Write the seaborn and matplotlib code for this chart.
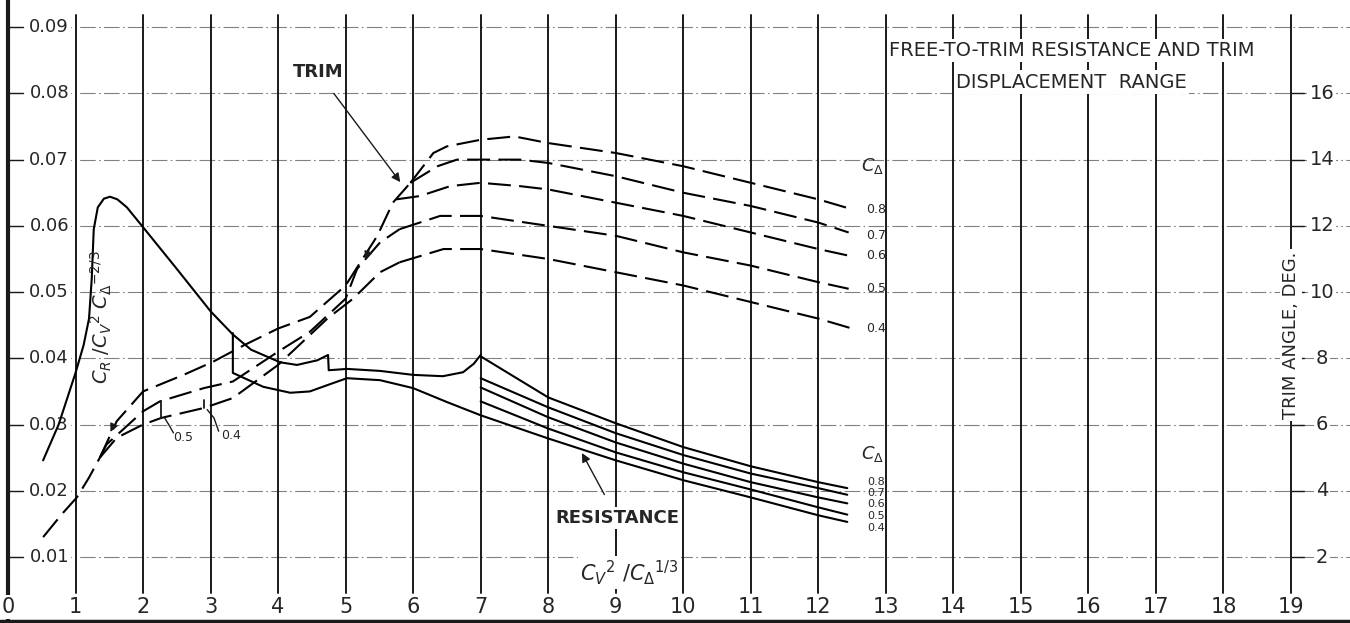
import matplotlib
matplotlib.use("Agg")
import numpy as np
import pandas as pd
import matplotlib.pyplot as plt
import seaborn as sns

# ---- data ----
# resistance, low speed (common to all loads), with the jump near x=4.75
res_hump_x = [0.52, 0.75, 1.0, 1.12, 1.2, 1.24, 1.27, 1.33, 1.42, 1.51, 1.62, 1.76, 2.0, 2.5, 3.0,
              3.33, 3.6, 4.03, 4.28, 4.58, 4.74, 4.75, 5.02, 5.51, 6.0, 6.44, 6.74, 6.9, 7.0]
res_hump = [0.0246, 0.030, 0.0378, 0.042, 0.046, 0.052, 0.0595, 0.0628, 0.0641, 0.0644, 0.0640, 0.0628,
            0.0598, 0.0535, 0.0471, 0.0436, 0.0413, 0.0394, 0.0390, 0.0397, 0.0405, 0.0382, 0.0384,
            0.0381, 0.0375, 0.0373, 0.0379, 0.0392, 0.0405]
# lower branch starting at x=3.33 (becomes the 0.4 curve)
res_low_x = [3.33, 3.33, 3.78, 4.18, 4.47, 4.77, 5.02, 5.51, 6.0, 6.5, 7.0]
res_low = [0.0438, 0.0378, 0.0357, 0.0348, 0.0350, 0.0361, 0.0370, 0.0367, 0.0355, 0.0334, 0.0314]
# high speed, one curve per load coefficient
loads = ["0.8", "0.7", "0.6", "0.5", "0.4"]
res_x = [7, 8, 9, 10, 11, 12, 12.43]
res_curves = {
    "0.8": [0.0403, 0.0341, 0.0302, 0.0266, 0.0237, 0.0213, 0.0204],
    "0.7": [0.0370, 0.0326, 0.0287, 0.0254, 0.0226, 0.0204, 0.0194],
    "0.6": [0.0356, 0.0311, 0.0273, 0.0241, 0.0213, 0.0190, 0.0181],
    "0.5": [0.0335, 0.0294, 0.0258, 0.0228, 0.0202, 0.0175, 0.0164],
    "0.4": [0.0314, 0.0279, 0.0246, 0.0216, 0.0190, 0.0163, 0.0153],
}
res_label_y = [0.0214, 0.0197, 0.0180, 0.0162, 0.0144]

# trim angle, degrees
trim_common_x = [0.52, 0.8, 1.02, 1.2, 1.36]
trim_common = [2.6, 3.3, 3.8, 4.4, 5.0]
trim_upper_x = [1.36, 1.61, 2.0, 2.6, 3.04, 3.5, 4.0, 4.47, 5.0, 5.47, 5.7, 5.96]
trim_upper = [5.0, 6.1, 7.0, 7.5, 7.9, 8.4, 8.9, 9.25, 10.2, 11.7, 12.7, 13.3]
trim_mid_x = [1.36, 1.46, 2.0, 2.25, 2.9, 3.33, 4.0, 4.47, 5.0, 5.17, 5.51, 5.8]
trim_mid = [5.0, 5.4, 6.4, 6.7, 7.1, 7.3, 8.2, 8.8, 9.8, 10.7, 11.5, 11.9]
trim_low_x = [1.36, 1.61, 2.0, 2.27, 2.9, 3.33, 4.0, 4.73, 5.11, 5.51, 5.8]
trim_low = [5.0, 5.6, 6.0, 6.2, 6.5, 6.8, 7.8, 9.2, 9.8, 10.6, 10.9]
trim_curves_x = {
    "0.8": [5.96, 6.3, 6.5, 7, 7.5, 8, 9, 10, 11, 12, 12.5],
    "0.7": [5.96, 6.36, 6.65, 7, 7.58, 8, 9, 10, 11, 12, 12.45],
    "0.6": [5.75, 6.1, 6.55, 7, 7.58, 8, 9, 10, 11, 12, 12.45],
    "0.5": [5.8, 6.4, 7, 8, 9, 10, 11, 12, 12.45],
    "0.4": [5.8, 6.45, 7, 8, 9, 10, 11, 12, 12.5],
}
trim_curves = {
    "0.8": [13.3, 14.2, 14.4, 14.6, 14.7, 14.5, 14.2, 13.8, 13.3, 12.8, 12.5],
    "0.7": [13.3, 13.8, 14.0, 14.0, 14.0, 13.9, 13.5, 13.0, 12.6, 12.1, 11.8],
    "0.6": [12.8, 12.9, 13.2, 13.3, 13.2, 13.1, 12.7, 12.3, 11.8, 11.3, 11.1],
    "0.5": [11.9, 12.3, 12.3, 12.0, 11.7, 11.2, 10.8, 10.3, 10.1],
    "0.4": [10.9, 11.3, 11.3, 11.0, 10.6, 10.2, 9.7, 9.2, 8.9],
}
trim_label_deg = [12.5, 11.7, 11.1, 10.1, 8.9]

y_ticks = [0.01, 0.02, 0.03, 0.04, 0.05, 0.06, 0.07, 0.08, 0.09]
x_ticks = list(range(0, 20))
deg_ticks = [2, 4, 6, 8, 10, 12, 14, 16]

# ---- figure ----
sns.set_theme(style="white")
plt.rcParams["font.family"] = ["DejaVu Sans"]
plt.rcParams["mathtext.fontset"] = "dejavusans"

fig = plt.figure(figsize=(13.5, 6.23), dpi=100)
ax = fig.add_axes([0, 0, 1, 1])
ax.set_xlim(-0.1185, 19.875)
ax.set_ylim(0.0000377, 0.0941)
ax.axis("off")
ax2 = ax.twinx()
ax2.set_ylim(0.0000377 * 200, 0.0941 * 200)
ax2.axis("off")

white = dict(fc="white", ec="none", pad=1.5)

# grid
for v in y_ticks:
    ax.plot([0, 19.9], [v, v], ls=(0, (14, 3, 1.5, 3)), color="0.5", lw=0.8, zorder=1)
    ax.plot([0, 0.22], [v, v], color="k", lw=1.0, zorder=1)
for xv in range(1, 20):
    ax.plot([xv, xv], [0.0046, 0.0918], color="k", lw=1.4, zorder=1)
ax.plot([0, 0], [0, 0.0941], color="k", lw=3, zorder=1)
ax.plot([-0.12, 19.9], [0.0003, 0.0003], color="k", lw=2.5, zorder=1)

for v in y_ticks:
    ax.text(0.61, v, f"{v:.2f}", ha="center", va="center", fontsize=13, bbox=white, zorder=2)
for i in x_ticks:
    ax.text(i, 0.0025, str(i), ha="center", va="center", fontsize=15, bbox=white, zorder=2)
for d in deg_ticks:
    ax2.plot([19.0, 19.2], [d, d], color="k", lw=1.0, zorder=1)
    ax2.text(19.46, d, str(d), ha="center", va="center", fontsize=14, bbox=white, zorder=2)

# resistance curves (solid)
kw = dict(color="black", lw=1.5, sort=False, estimator=None, legend=False, zorder=4)
sns.lineplot(x=res_hump_x, y=res_hump, ax=ax, **kw)
sns.lineplot(x=res_low_x, y=res_low, ax=ax, **kw)
res_df = pd.DataFrame([(c, x, y) for c in loads for x, y in zip(res_x, res_curves[c])],
                      columns=["load", "x", "y"])
for c in loads:
    sub = res_df[res_df.load == c]
    sns.lineplot(data=sub, x="x", y="y", ax=ax, **kw)

# trim curves (dashed)
dash = (0, (11, 4))
tkw = dict(color="black", lw=1.5, sort=False, estimator=None, legend=False, zorder=4)
for xs, ys in [(trim_common_x, trim_common), (trim_upper_x, trim_upper),
               (trim_mid_x, trim_mid), (trim_low_x, trim_low)]:
    sns.lineplot(x=xs, y=ys, ax=ax2, linestyle=dash, **tkw)
for c in loads:
    sns.lineplot(x=trim_curves_x[c], y=trim_curves[c], ax=ax2, linestyle=dash, **tkw)

# direction arrowheads on the trim curves
for tip, tail in [((1.5, 5.7), (1.58, 6.05)), ((5.28, 10.9), (5.36, 11.35))]:
    ax2.annotate("", xy=tip, xytext=tail, zorder=5,
                 arrowprops=dict(arrowstyle="-|>", color="k", lw=1.0, mutation_scale=12))

# step marks with labels on the low trim curve
ax2.plot([2.27, 2.27], [6.2, 6.7], color="k", lw=1.3, zorder=4)
ax2.plot([2.9, 2.9], [6.5, 6.75], color="k", lw=1.3, zorder=4)
ax2.plot([2.32, 2.38, 2.45], [6.2, 6.0, 5.75], color="k", lw=1.0, zorder=4)
ax2.plot([2.95, 3.05, 3.12], [6.45, 6.2, 5.8], color="k", lw=1.0, zorder=4)
ax.text(2.6, 0.0281, "0.5", ha="center", va="center", fontsize=9)
ax.text(3.3, 0.0283, "0.4", ha="center", va="center", fontsize=9)

# load labels
for c, yv in zip(loads, res_label_y):
    ax.text(12.85, yv, c, ha="center", va="center", fontsize=8, zorder=5)
ax.text(12.8, 0.0255, r"$C_\Delta$", ha="center", va="center", fontsize=13)
for c, d in zip(loads, trim_label_deg):
    ax2.text(12.85, d, c, ha="center", va="center", fontsize=9)
ax2.text(12.8, 13.8, r"$C_\Delta$", ha="center", va="center", fontsize=13)

# annotations
ax.annotate("TRIM", xy=(5.81, 0.0666), xytext=(4.59, 0.0832), ha="center", va="center",
            fontsize=13, fontweight="bold", zorder=5,
            arrowprops=dict(arrowstyle="-|>", color="k", lw=1.0, shrinkA=8, shrinkB=0))
ax.annotate("RESISTANCE", xy=(8.5, 0.0257), xytext=(9.02, 0.0159), ha="center", va="center",
            fontsize=13, fontweight="bold", bbox=white, zorder=5,
            arrowprops=dict(arrowstyle="-|>", color="k", lw=1.0, shrinkA=10, shrinkB=0))
ax.text(9.2, 0.0076, r"$C_V{}^2\ /C_\Delta{}^{1/3}$", ha="center", va="center", fontsize=15,
        bbox=white, zorder=5)
ax.text(1.38, 0.0462, r"$C_R\ /C_V{}^2\ C_\Delta{}^{-2/3}$", ha="center", va="center",
        fontsize=14, rotation=90, zorder=5)
ax2.text(19.0, 8.7, "TRIM ANGLE, DEG.", ha="center", va="center", fontsize=13,
         rotation=90, bbox=white, zorder=5)

ax.text(15.75, 0.0865, "FREE-TO-TRIM RESISTANCE AND TRIM", ha="center", va="center",
        fontsize=14, bbox=white, zorder=5)
ax.text(15.75, 0.0817, "DISPLACEMENT  RANGE", ha="center", va="center", fontsize=14,
        bbox=white, zorder=5)

fig.savefig("out.png", dpi=100)
